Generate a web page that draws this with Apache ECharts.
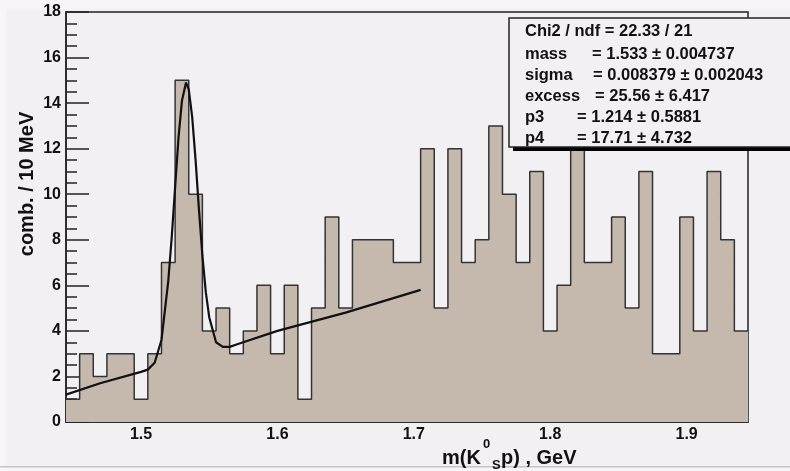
<!DOCTYPE html>
<html>
<head>
<meta charset="utf-8">
<script src="https://cdn.jsdelivr.net/npm/echarts@6/dist/echarts.min.js"></script>
<style>
    html, body { margin: 0; padding: 0; background: #f7f5f8; }
    #main { width: 790px; height: 471px; }
</style>
</head>
<body>
<div id="main"></div>
<script>
// histogram bins, 10 MeV wide
var binEdges = [1.445, 1.455, 1.465, 1.475, 1.485, 1.495, 1.505, 1.515, 1.525, 1.535,
    1.545, 1.555, 1.565, 1.575, 1.585, 1.595, 1.605, 1.615, 1.625, 1.635,
    1.645, 1.655, 1.665, 1.675, 1.685, 1.695, 1.705, 1.715, 1.725, 1.735,
    1.745, 1.755, 1.765, 1.775, 1.785, 1.795, 1.805, 1.815, 1.825, 1.835,
    1.845, 1.855, 1.865, 1.875, 1.885, 1.895, 1.905, 1.915, 1.925, 1.935, 1.945];
var counts = [1, 3, 2, 3, 3, 1, 3, 7, 15, 10,
    4, 5, 3, 4, 6, 3, 6, 1, 5, 9,
    5, 8, 8, 8, 7, 7, 12, 5, 12, 7,
    8, 13, 10, 7, 11, 4, 6, 13, 7, 7,
    9, 5, 11, 3, 3, 9, 4, 11, 8, 4];

// fit curve
var fitX = [1.445, 1.47, 1.50, 1.505, 1.51, 1.515, 1.52, 1.5225, 1.525, 1.5275, 1.53, 1.533,
    1.535, 1.5375, 1.54, 1.5425, 1.545, 1.5475, 1.55, 1.555, 1.56, 1.565, 1.57, 1.60, 1.65, 1.705];
var fitY = [1.2, 1.7, 2.2, 2.3, 2.6, 3.6, 6.2, 8.1, 10.3, 12.5, 14.1, 14.9,
    14.6, 13.4, 11.5, 9.3, 7.3, 5.7, 4.6, 3.5, 3.3, 3.3, 3.4, 4.0, 4.8, 5.8];

var xLabels = [1.5, 1.6, 1.7, 1.8, 1.9];
var xMinorTicks = [1.45, 1.55, 1.65, 1.75, 1.85];

var statsLines = [
    ["Chi2 / ndf = 22.33 / 21", ""],
    ["mass", "= 1.533 \u00b1 0.004737"],
    ["sigma", "= 0.008379 \u00b1 0.002043"],
    ["excess", "= 25.56 \u00b1 6.417"],
    ["p3", "= 1.214 \u00b1 0.5881"],
    ["p4", "= 17.71 \u00b1 4.732"]
];
var statsValueX = [0, 592, 593, 595, 577, 577];
var statsLineY = [31, 54, 75, 96, 117, 138];

var font = "Liberation Sans, Arial, sans-serif";
var bg = "#f3f0f4";

var histData = [];
for (var i = 0; i < counts.length; i++) {
    histData.push([binEdges[i], counts[i]]);
}
histData.push([binEdges[counts.length], counts[counts.length - 1]]);

var fitData = [];
for (var j = 0; j < fitX.length; j++) {
    fitData.push([fitX[j], fitY[j]]);
}

var graphics = [
    { type: "rect", z: -100, shape: { x: 6, y: 9, width: 784, height: 457 }, style: { fill: bg } },
    { type: "rect", z: -100, shape: { x: 0, y: 466, width: 790, height: 1.5 }, style: { fill: "#c4c4c4" } },
    // stats box with shadow
    { type: "rect", z: 100, shape: { x: 513, y: 22, width: 300, height: 129 }, style: { fill: "#000" } },
    { type: "rect", z: 101, shape: { x: 509, y: 18, width: 300, height: 129 }, style: { fill: bg, stroke: "#222", lineWidth: 1.5 } },
    // axis titles
    {
        type: "text", z: 50, x: 27, y: 184, rotation: Math.PI / 2,
        style: { text: "comb. / 10 MeV", font: "bold 20px " + font, fill: "#111", align: "center", verticalAlign: "middle" }
    },
    { type: "text", z: 50, x: 442, y: 458, style: { text: "m(K", font: "bold 20px " + font, fill: "#111", verticalAlign: "middle" } },
    { type: "text", z: 50, x: 483, y: 444, style: { text: "0", font: "bold 13px " + font, fill: "#111", verticalAlign: "middle" } },
    { type: "text", z: 50, x: 492, y: 465, style: { text: "S", font: "bold 13px " + font, fill: "#111", verticalAlign: "middle" } },
    { type: "text", z: 50, x: 501, y: 458, style: { text: "p) , GeV", font: "bold 20px " + font, fill: "#111", verticalAlign: "middle" } }
];
statsLines.forEach(function(line, k) {
    graphics.push({
        type: "text", z: 102, x: 525, y: statsLineY[k],
        style: { text: line[0], font: "bold 16.5px " + font, fill: "#111", verticalAlign: "middle" }
    });
    if (line[1]) {
        graphics.push({
            type: "text", z: 102, x: statsValueX[k], y: statsLineY[k],
            style: { text: line[1], font: "bold 16.5px " + font, fill: "#111", verticalAlign: "middle" }
        });
    }
});

var myChart = echarts.init(document.getElementById("main"));
var option = {
    backgroundColor: "#f7f5f8",
    animation: false,
    grid: {
        left: 66,
        top: 12,
        right: 42,
        bottom: 49,
        show: true,
        backgroundColor: bg,
        borderColor: "#222",
        borderWidth: 1.5
    },
    xAxis: [
        {
            type: "value",
            min: 1.445,
            max: 1.945,
            axisLine: { lineStyle: { color: "#222", width: 1.5 } },
            axisTick: { inside: true, length: 11, customValues: xLabels, lineStyle: { color: "#222", width: 1.5 } },
            axisLabel: {
                customValues: xLabels,
                margin: 5,
                color: "#111",
                fontFamily: font,
                fontWeight: "bold",
                fontSize: 16
            },
            splitLine: { show: false }
        },
        {
            type: "value",
            position: "bottom",
            min: 1.445,
            max: 1.945,
            axisLine: { show: false },
            axisTick: { inside: true, length: 5, customValues: xMinorTicks, lineStyle: { color: "#222", width: 1.5 } },
            axisLabel: { show: false },
            splitLine: { show: false }
        }
    ],
    yAxis: [
        {
            type: "value",
            min: 0,
            max: 18,
            interval: 2,
            axisLine: { show: true, lineStyle: { color: "#222", width: 1.5 } },
            axisTick: { show: true, inside: true, length: 23, lineStyle: { color: "#222", width: 1.5 } },
            minorTick: { show: true, splitNumber: 4, length: 11, lineStyle: { color: "#222", width: 1.5 } },
            axisLabel: {
                margin: 5,
                color: "#111",
                fontFamily: font,
                fontWeight: "bold",
                fontSize: 16
            },
            splitLine: { show: false }
        }
    ],
    series: [
        {
            name: "hist",
            type: "line",
            step: "end",
            symbol: "none",
            data: histData,
            lineStyle: { color: "#333", width: 1.5 },
            areaStyle: { color: "#c5b8ad", opacity: 1 },
            z: 2
        },
        {
            name: "fit",
            type: "line",
            symbol: "none",
            data: fitData,
            lineStyle: { color: "#111", width: 2.2 },
            z: 3
        }
    ],
    graphic: graphics
};
myChart.setOption(option);
</script>
</body>
</html>
